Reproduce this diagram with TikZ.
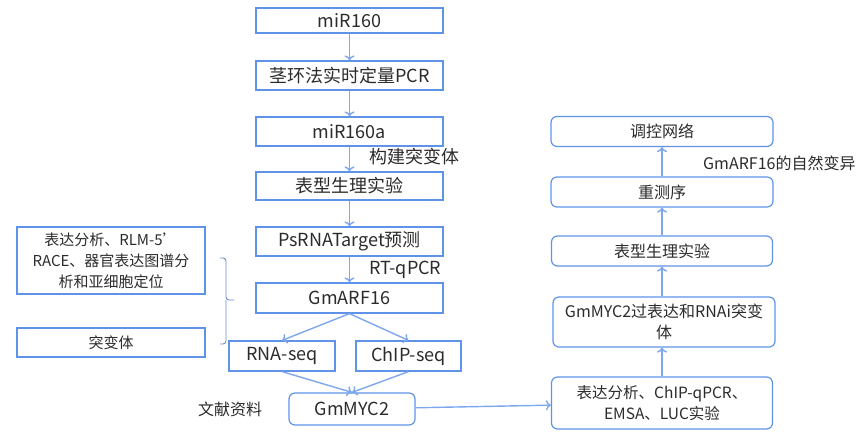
\documentclass[tikz,border=0pt]{standalone}
\usepackage{fontspec}
\setmainfont{Noto Sans CJK SC}
\usetikzlibrary{arrows.meta}
\definecolor{bl}{HTML}{5F93E8}
\definecolor{ar}{HTML}{7DA7EE}
\definecolor{tx}{HTML}{2B2B2B}
\begin{document}
\begin{tikzpicture}[x=1pt,y=-1pt,
  sq/.style={draw=bl,line width=1.2pt,text=tx,font=\fontsize{18}{20}\selectfont,inner sep=0pt,align=center},
  rd/.style={sq,rounded corners=6pt,font=\fontsize{16}{21}\selectfont},
  arr/.style={draw=ar,line width=1.4pt,-{To[length=5pt,width=10pt]}},
  lbl/.style={text=tx,font=\fontsize{18}{20}\selectfont,inner sep=0pt}]
\useasboundingbox (0,0) rectangle (859,437);
% left column
\node[sq,minimum width=187pt,minimum height=25pt] (a) at (349.5,20.5) {miR160};
\node[sq,minimum width=187pt,minimum height=29pt] (b) at (349.5,75.5) {茎环法实时定量PCR};
\node[sq,minimum width=187pt,minimum height=29pt] (c) at (349.5,131.5) {miR160a};
\node[sq,minimum width=187pt,minimum height=28pt] (d) at (349.5,186) {表型生理实验};
\node[sq,minimum width=187pt,minimum height=29pt] (e) at (349.5,241.5) {PsRNATarget预测};
\node[sq,minimum width=187pt,minimum height=30pt] (f) at (349.5,298) {GmARF16};
\draw[arr] (a) -- (b);
\draw[arr] (b) -- (c);
\draw[arr] (c) -- (d);
\draw[arr] (d) -- (e);
\draw[arr] (e) -- (f);
\node[lbl,anchor=west] (l1) at (369,157) {构建突变体};
\node[lbl,anchor=west] (l2) at (369,270) {RT-qPCR};
% left side boxes
\node[sq,font=\fontsize{15}{21}\selectfont,minimum width=188pt,minimum height=67pt] (g) at (111,260.5) {表达分析、RLM-5'\\RACE、器官表达图谱分\\析和亚细胞定位};
\node[sq,font=\fontsize{15}{18}\selectfont,minimum width=188pt,minimum height=29pt] (h) at (111,342.5) {突变体};
\coordinate (bt) at (220,258);
\coordinate (bb) at (220,344);
\coordinate (bm) at (234,300);
\draw[draw=bl!70!gray,line width=0.9pt,rounded corners=3pt] (bt) -- (226,258) -- (226,300) -- (bm);
\draw[draw=bl!70!gray,line width=0.9pt,rounded corners=3pt] (bb) -- (226,344) -- (226,300);
% seq boxes
\node[sq,minimum width=106pt,minimum height=30pt] (i) at (282,356) {RNA-seq};
\node[sq,minimum width=105pt,minimum height=30pt] (j) at (408.5,356) {ChIP-seq};
\node[rd,font=\fontsize{18}{20}\selectfont,minimum width=126pt,minimum height=32pt] (k) at (352,409) {GmMYC2};
\node[lbl,font=\fontsize{16}{18}\selectfont] (l3) at (230,409) {文献资料};
\draw[arr] (f.south) -- (i.north);
\draw[arr] (f.south) -- (j.north);
\draw[arr] (i.south) -- (k.north);
\draw[arr] (j.south) -- (k.north);
% right column
\node[rd,font=\fontsize{15.5}{21}\selectfont,minimum width=221pt,minimum height=52pt] (p) at (662,403) {表达分析、ChIP-qPCR、\\EMSA、LUC实验};
\node[rd,minimum width=222pt,minimum height=50pt] (q) at (664,322) {GmMYC2过表达和RNAi突变\\体};
\node[rd,minimum width=221pt,minimum height=30pt] (r) at (662,251) {表型生理实验};
\node[rd,minimum width=222pt,minimum height=30pt] (s) at (662,192) {重测序};
\node[rd,minimum width=222pt,minimum height=30pt] (t) at (662,131.5) {调控网络};
\node[lbl,font=\fontsize{16}{18}\selectfont,anchor=west] (l4) at (703,163) {GmARF16的自然变异};
\draw[arr] (k) -- (p);
\draw[arr] (p.north -| 662,0) -- (q.south -| 662,0);
\draw[arr] (q.north -| 662,0) -- (r.south -| 662,0);
\draw[arr] (r) -- (s);
\draw[arr] (s) -- (t);
\end{tikzpicture}
\end{document}
